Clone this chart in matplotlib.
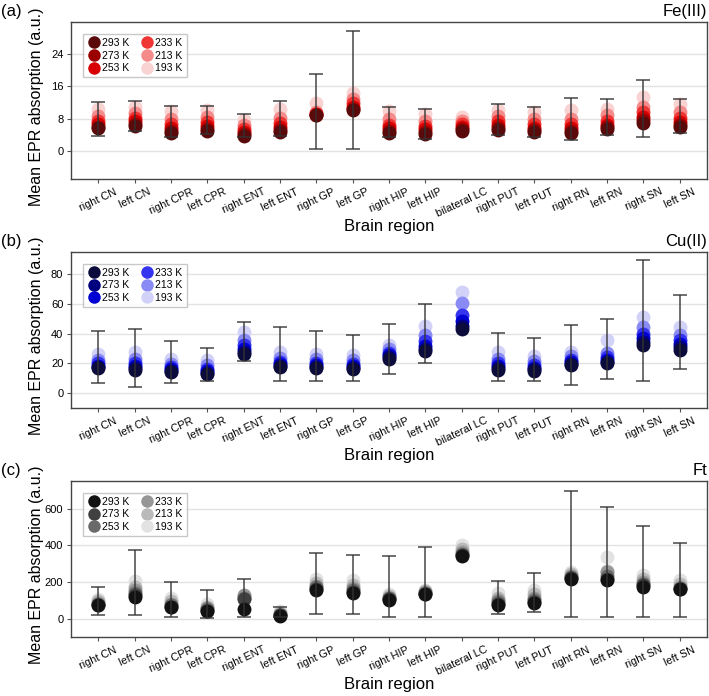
import numpy as np
import matplotlib
matplotlib.use("Agg")
import matplotlib.pyplot as plt
from matplotlib.lines import Line2D

regions = ["right CN", "left CN", "right CPR", "left CPR", "right ENT", "left ENT",
           "right GP", "left GP", "right HIP", "left HIP", "bilateral LC", "right PUT",
           "left PUT", "right RN", "left RN", "right SN", "left SN"]
temps = ["293 K", "273 K", "253 K", "233 K", "213 K", "193 K"]

# ---- Fe(III) ----
fe_293 = [5.6, 6.2, 4.5, 5.0, 3.8, 4.7, 8.9, 10.2, 4.5, 4.2, 5.0, 5.2, 4.6, 4.5, 5.3, 7.0, 5.9]
fe_273 = [6.0, 6.7, 5.0, 5.5, 4.2, 5.2, 9.0, 10.5, 5.0, 4.6, 5.4, 5.7, 5.1, 5.0, 5.8, 7.6, 6.4]
fe_253 = [6.6, 7.3, 5.7, 6.2, 4.7, 5.9, 9.1, 11.0, 5.6, 5.3, 5.9, 6.4, 5.7, 5.7, 6.5, 8.5, 7.2]
fe_233 = [7.4, 8.1, 6.6, 7.1, 5.4, 6.9, 9.2, 11.8, 6.5, 6.2, 6.6, 7.3, 6.6, 6.7, 7.5, 9.6, 8.2]
fe_213 = [8.6, 9.3, 7.9, 8.3, 6.4, 8.2, 9.6, 12.8, 7.8, 7.4, 7.5, 8.6, 7.8, 8.0, 8.8, 11.0, 9.6]
fe_193 = [10.5, 11.0, 10.0, 10.2, 7.6, 10.4, 11.8, 14.3, 9.8, 9.2, 8.5, 10.2, 9.6, 10.2, 10.5, 13.3, 11.7]
fe_min = [3.6, 4.9, 3.4, 4.1, 3.5, 3.7, 0.5, 0.5, 3.4, 3.0, np.nan, 4.0, 3.5, 2.6, 4.0, 3.5, 4.5]
fe_max = [12.1, 12.5, 11.2, 11.2, 9.2, 12.4, 19.2, 29.7, 10.8, 10.3, np.nan, 11.6, 11.0, 13.2, 12.9, 17.6, 12.9]

# ---- Cu(II) ----
cu_293 = [16.7, 15.6, 14.0, 12.9, 26.2, 17.3, 16.7, 16.0, 23.3, 28.2, 43.3, 15.6, 15.1, 18.9, 20.0, 32.7, 29.3]
cu_273 = [17.5, 16.6, 14.8, 13.7, 27.8, 18.3, 17.5, 16.8, 24.3, 29.8, 45.5, 16.6, 16.0, 19.8, 21.0, 34.5, 30.8]
cu_253 = [18.6, 18.0, 16.0, 14.8, 29.8, 19.5, 18.7, 18.0, 25.6, 32.0, 48.5, 18.0, 17.2, 21.0, 22.5, 37.0, 32.8]
cu_233 = [20.0, 20.0, 17.5, 16.4, 32.5, 21.2, 20.3, 19.6, 27.3, 35.0, 52.5, 20.0, 18.8, 22.6, 24.5, 40.0, 35.5]
cu_213 = [22.5, 23.0, 19.8, 18.7, 36.0, 23.8, 22.8, 22.0, 29.7, 39.0, 60.5, 23.0, 21.3, 25.0, 27.0, 44.5, 39.2]
cu_193 = [26.5, 27.5, 23.2, 22.0, 41.0, 27.6, 26.5, 25.8, 32.6, 45.3, 67.8, 27.5, 25.0, 28.0, 35.5, 51.0, 44.2]
cu_min = [7.1, 4.0, 7.1, 8.0, 21.8, 8.0, 8.0, 8.0, 12.9, 20.4, np.nan, 8.2, 8.2, 5.8, 9.6, 8.4, 16.0]
cu_max = [41.6, 43.1, 35.1, 30.7, 48.0, 44.2, 41.6, 38.9, 46.7, 60.0, np.nan, 40.7, 37.3, 46.0, 50.0, 89.6, 65.8]

# ---- Ft ----
ft_293 = [72, 117, 61, 40, 50, 15, 157, 139, 100, 135, 341, 76, 85, 215, 210, 175, 160]
ft_273 = [76, 127, 66, 44, 105, 18, 163, 146, 105, 137, 345, 82, 92, 220, 218, 182, 163]
ft_253 = [80, 140, 73, 50, 115, 22, 170, 155, 110, 140, 352, 90, 102, 225, 230, 190, 168]
ft_233 = [86, 155, 82, 57, 130, 26, 180, 167, 115, 143, 362, 100, 115, 232, 255, 200, 175]
ft_213 = [95, 175, 95, 66, 122, 32, 195, 185, 122, 148, 378, 115, 132, 242, 262, 215, 190]
ft_193 = [108, 205, 115, 80, 112, 40, 215, 208, 135, 155, 400, 138, 155, 255, 338, 237, 213]
ft_min = [18, 22, 11, 4, 7, 7, 25, 25, 11, 11, np.nan, 25, 34, 11, 11, 11, 11]
ft_max = [172, 372, 197, 155, 215, 65, 360, 345, 341, 390, np.nan, 206, 249, 696, 607, 506, 412]

red_colors = ["#5a0a0a", "#9a0000", "#d80000", "#f03535", "#f58a8a", "#f9d2d2"]
blue_colors = ["#0c0c3c", "#00007e", "#0000d2", "#3535f0", "#8a8af5", "#d2d2f8"]
gray_colors = ["#121212", "#404040", "#6a6a6a", "#969696", "#bababa", "#e2e2e2"]

panels = [
    ("(a)", "Fe(III)", [fe_293, fe_273, fe_253, fe_233, fe_213, fe_193], fe_min, fe_max,
     red_colors, (-7, 32), [0, 8, 16, 24]),
    ("(b)", "Cu(II)", [cu_293, cu_273, cu_253, cu_233, cu_213, cu_193], cu_min, cu_max,
     blue_colors, (-10, 95), [0, 20, 40, 60, 80]),
    ("(c)", "Ft", [ft_293, ft_273, ft_253, ft_233, ft_213, ft_193], ft_min, ft_max,
     gray_colors, (-100, 750), [0, 200, 400, 600]),
]

plt.rcParams['font.family'] = ['Liberation Sans', 'DejaVu Sans']
W, H = 709, 696
fig = plt.figure(figsize=(W / 100, H / 100), dpi=100)

axes_px = [(22, 179), (252, 408), (481, 637)]
left_px, right_px = 71, 707

x = np.arange(len(regions))
for (lab, title, series, vmin, vmax, cols, ylim, yt), (top, bot) in zip(panels, axes_px):
    ax = fig.add_axes([left_px / W, 1 - bot / H, (right_px - left_px) / W, (bot - top) / H])
    # draw lightest first so darker overlay
    for vals, c in reversed(list(zip(series, cols))):
        ax.plot(x, vals, 'o', color=c, markersize=10, markeredgewidth=0, linestyle='none',
                zorder=3)
    vmin_a = np.array(vmin, dtype=float)
    vmax_a = np.array(vmax, dtype=float)
    mid = (vmin_a + vmax_a) / 2
    ok = ~np.isnan(mid)
    ax.errorbar(x[ok], mid[ok], yerr=[mid[ok] - vmin_a[ok], vmax_a[ok] - mid[ok]],
                fmt='none', ecolor='#333333', elinewidth=1.1, capsize=5, capthick=1.1,
                alpha=0.9, zorder=4)
    ax.set_xlim(-0.75, 16.75)
    ax.set_ylim(*ylim)
    ax.set_yticks(yt)
    ax.set_xticks(x)
    ax.set_xticklabels(regions, rotation=25, ha='center', va='top', fontsize=7.8)
    ax.tick_params(axis='y', labelsize=8, length=3, color='#555555', pad=2.5)
    ax.tick_params(axis='x', length=3, color='#555555', pad=2.5)
    ax.yaxis.grid(True, color='#e2e2e2', linewidth=1, zorder=0)
    ax.set_axisbelow(True)
    for s in ax.spines.values():
        s.set_color('#444444')
        s.set_linewidth(1)
    ax.set_xlabel("Brain region", fontsize=12, labelpad=0)
    ax.set_ylabel("Mean EPR absorption (a.u.)", fontsize=11.5)
    ax.yaxis.set_label_coords(-0.042, 0.46)
    ax.set_title(title, loc='right', fontsize=12, pad=4)
    ax.text(-0.11, 1.065, lab, transform=ax.transAxes, fontsize=12, ha='left', va='center')
    handles = [Line2D([], [], marker='o', color=c, markersize=9, markeredgewidth=0,
                      linestyle='none') for c in cols]
    leg = ax.legend(handles, temps, ncol=2, loc='upper left', bbox_to_anchor=(0.019, 0.925),
                    borderaxespad=0, fontsize=7.5, frameon=True, fancybox=False,
                    edgecolor='#bbbbbb', handletextpad=0.2, columnspacing=1.1,
                    labelspacing=0.25, borderpad=0.4, handlelength=1.2)
    leg.get_frame().set_linewidth(1)

fig.savefig("out.png", dpi=100)
